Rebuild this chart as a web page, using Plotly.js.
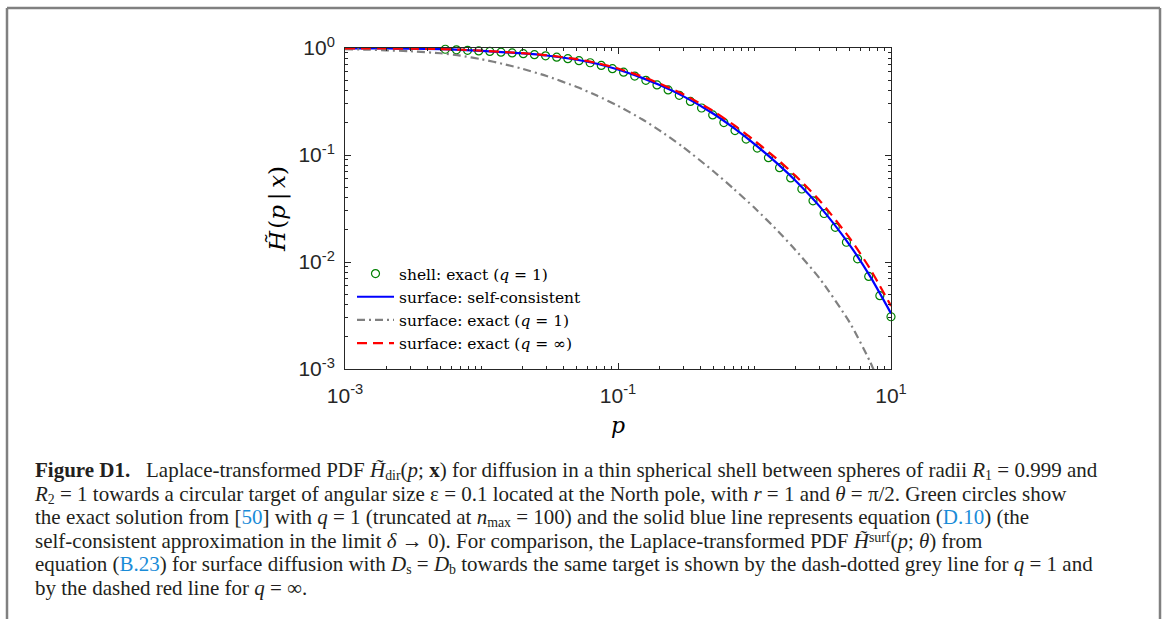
<!DOCTYPE html>
<html>
<head>
<meta charset="utf-8">
<script src="https://cdn.plot.ly/plotly-3.0.1.min.js"></script>
<style>
  html, body { margin: 0; padding: 0; background: #fff; }
  body { position: relative; width: 1165px; height: 619px; overflow: hidden; }
  #chart { position: absolute; left: 0; top: 0; width: 1165px; height: 619px; }
  #caption {
    position: absolute; left: 35px; top: 459px; z-index: 10;
    font-family: 'Liberation Serif', 'Times New Roman', serif;
    font-size: 21px; line-height: 23.6px; color: #231f20; white-space: nowrap;
  }
  #caption sub, #caption sup { font-size: 0.66em; line-height: 0; }
  #caption sub { vertical-align: -0.22em; }
  #caption sup { vertical-align: 0.42em; }
  #caption .ref { color: #1a8cd8; }
</style>
</head>
<body>
<div id="chart"></div>
<div id="caption"></div>
<script>
// ---------------- data ----------------
// shell: exact (q = 1) — green circles
const pShell = [0.005429, 0.006551, 0.007906, 0.009541, 0.01151, 0.01389, 0.01677, 0.02024,
  0.02442, 0.02947, 0.03556, 0.04292, 0.05179, 0.06251, 0.07543, 0.09103, 0.1099, 0.1326,
  0.1600, 0.1931, 0.2330, 0.2812, 0.3393, 0.4095, 0.4942, 0.5964, 0.7197, 0.8685, 1.048,
  1.265, 1.526, 1.842, 2.223, 2.683, 3.237, 3.907, 4.715, 5.690, 6.866, 8.286, 10];
const hShell = [0.973, 0.962, 0.951, 0.940, 0.929, 0.914, 0.900, 0.885, 0.867, 0.845, 0.820,
  0.794, 0.762, 0.728, 0.687, 0.641, 0.594, 0.546, 0.499, 0.452, 0.406, 0.361, 0.317, 0.275,
  0.237, 0.201, 0.169, 0.141, 0.116, 0.0944, 0.0762, 0.0610, 0.0481, 0.0373, 0.0284, 0.0211,
  0.0153, 0.0107, 0.00733, 0.00484, 0.00308];

// p grid for the three curves
const pCurve = [0.001, 0.0015, 0.002, 0.003, 0.005, 0.007, 0.01, 0.015, 0.02, 0.03, 0.05, 0.07,
  0.1, 0.15, 0.2, 0.3, 0.5, 0.7, 1, 1.5, 2, 3, 5, 7, 10];
// surface: self-consistent — solid blue
const hSelfConsistent = [0.993, 0.991, 0.989, 0.984, 0.977, 0.962, 0.940, 0.912, 0.891, 0.851,
  0.776, 0.713, 0.630, 0.526, 0.453, 0.355, 0.243, 0.180, 0.1265, 0.0813, 0.0575, 0.0331,
  0.0143, 0.00741, 0.00331];
// surface: exact (q = 1) — grey dash-dot
const hSurfQ1 = [0.975, 0.964, 0.951, 0.933, 0.893, 0.849, 0.785, 0.701, 0.638, 0.547, 0.432,
  0.359, 0.288, 0.216, 0.171, 0.1186, 0.0705, 0.0486, 0.0321, 0.0192, 0.0129, 0.00703, 0.00270,
  0.00118, 0.000405];
// surface: exact (q = inf) — red dashed
const hSurfQinf = [0.993, 0.991, 0.989, 0.984, 0.977, 0.964, 0.944, 0.916, 0.895, 0.857, 0.787,
  0.724, 0.643, 0.542, 0.468, 0.370, 0.257, 0.192, 0.1365, 0.0891, 0.0638, 0.0376, 0.0166,
  0.00871, 0.00389];

const legendNames = [
  'shell: exact (<i>q</i> = 1)',
  'surface: self-consistent',
  'surface: exact (<i>q</i> = 1)',
  'surface: exact (<i>q</i> = ∞)'
];

const xTickVals = [0.001, 0.1, 10];
const xTickText = ['10<sup>-3</sup>', '10<sup>-1</sup>', '10<sup>1</sup>'];
const yTickVals = [0.001, 0.01, 0.1, 1];
const yTickText = ['10<sup>-3</sup>', '10<sup>-2</sup>', '10<sup>-1</sup>', '10<sup>0</sup>'];

const captionLines = [
  '<b>Figure D1.</b>&ensp; Laplace-transformed PDF <i>H̃</i><sub>dir</sub>(<i>p</i>; <b>x</b>) for diffusion in a thin spherical shell between spheres of radii <i>R</i><sub>1</sub> = 0.999 and',
  '<i>R</i><sub>2</sub> = 1 towards a circular target of angular size ε = 0.1 located at the North pole, with <i>r</i> = 1 and <i>θ</i> = π/2. Green circles show',
  'the exact solution from [<span class="ref">50</span>] with <i>q</i> = 1 (truncated at <i>n</i><sub>max</sub> = 100) and the solid blue line represents equation (<span class="ref">D.10</span>) (the',
  'self-consistent approximation in the limit <i>δ</i> → 0). For comparison, the Laplace-transformed PDF <i>H̃</i><sup>surf</sup>(<i>p</i>; <i>θ</i>) from',
  'equation (<span class="ref">B.23</span>) for surface diffusion with <i>D</i><sub>s</sub> = <i>D</i><sub>b</sub> towards the same target is shown by the dash-dotted grey line for <i>q</i> = 1 and',
  'by the dashed red line for <i>q</i> = ∞.'
];
document.getElementById('caption').innerHTML = captionLines.join('<br>');

// ---------------- layout helpers (pixel -> paper) ----------------
const W = 1165, H = 619;
const PL = 345, PR = 891, PT = 48, PB = 369;
const px = x => (x - PL) / (PR - PL);
const py = y => (PB - y) / (PB - PT);

function minorVals(lo, hi) {
  const out = [];
  for (let e = lo; e < hi; e++) {
    for (let m = 1; m <= 9; m++) out.push(m * Math.pow(10, e));
  }
  return out;
}

const axisColor = '#262626';
const tickFont = { family: 'Liberation Sans, Arial, sans-serif', size: 21, color: axisColor };

const traces = [
  {
    x: pShell, y: hShell, name: legendNames[0], type: 'scatter', mode: 'markers',
    marker: { symbol: 'circle-open', size: 8, color: '#008000', line: { width: 1.2, color: '#008000' } },
    cliponaxis: false
  },
  {
    x: pCurve, y: hSelfConsistent, name: legendNames[1], type: 'scatter', mode: 'lines',
    line: { color: '#0000ff', width: 2.2, shape: 'spline', smoothing: 0.6 },
    cliponaxis: false
  },
  {
    x: pCurve, y: hSurfQ1, name: legendNames[2], type: 'scatter', mode: 'lines',
    line: { color: '#808080', width: 2.2, dash: '8px,4px,2px,4px', shape: 'spline', smoothing: 0.6 }
  },
  {
    x: pCurve, y: hSurfQinf, name: legendNames[3], type: 'scatter', mode: 'lines',
    line: { color: '#ff0000', width: 2.2, dash: '10px,6px', shape: 'spline', smoothing: 0.6 },
    cliponaxis: false
  }
];

const frameColor = '#808080';
const shapes = [
  { type: 'line', xref: 'paper', yref: 'paper', x0: px(7), x1: px(7), y0: py(8), y1: py(640), line: { color: frameColor, width: 2.5 } },
  { type: 'line', xref: 'paper', yref: 'paper', x0: px(7), x1: px(1160), y0: py(8), y1: py(8), line: { color: frameColor, width: 2.5 } },
  { type: 'line', xref: 'paper', yref: 'paper', x0: px(1160), x1: px(1160), y0: py(8), y1: py(640), line: { color: frameColor, width: 2.5 } }
];

const layout = {
  width: W, height: H,
  margin: { l: PL, r: W - PR, t: PT, b: H - PB, pad: 0 },
  paper_bgcolor: '#ffffff', plot_bgcolor: '#ffffff',
  showlegend: true,
  xaxis: {
    type: 'log', range: [-3, 1], autorange: false,
    tickvals: xTickVals, ticktext: xTickText,
    ticks: 'inside', ticklen: 6, tickwidth: 1, tickcolor: axisColor,
    showline: true, linecolor: axisColor, linewidth: 1, mirror: 'allticks',
    showgrid: false, zeroline: false, tickfont: tickFont, ticklabelstandoff: 8,
    minor: { tickvals: minorVals(-3, 1), ticks: 'inside', ticklen: 3, tickwidth: 1, tickcolor: axisColor, showgrid: false },
    title: { text: '<i>p</i>', font: { family: 'DejaVu Serif, serif', size: 22, color: '#000' }, standoff: 11 }
  },
  yaxis: {
    type: 'log', range: [-3, 0], autorange: false,
    tickvals: yTickVals, ticktext: yTickText,
    ticks: 'inside', ticklen: 6, tickwidth: 1, tickcolor: axisColor,
    showline: true, linecolor: axisColor, linewidth: 1, mirror: 'allticks',
    showgrid: false, zeroline: false, tickfont: tickFont, ticklabelstandoff: 5,
    minor: { tickvals: minorVals(-3, 0), ticks: 'inside', ticklen: 3, tickwidth: 1, tickcolor: axisColor, showgrid: false },
    title: { text: '<i>H̃</i>\u200a(<i>p</i>\u2009|\u2009<i>x</i>)', font: { family: 'DejaVu Serif, serif', size: 23, color: '#000' }, standoff: 6 }
  },
  legend: {
    x: px(352), y: py(257), xanchor: 'left', yanchor: 'top',
    bgcolor: 'rgba(0,0,0,0)', borderwidth: 0,
    font: { family: 'DejaVu Serif, serif', size: 15.5, color: '#000' },
    itemwidth: 37, tracegroupgap: 0
  },
  shapes: shapes
};

Plotly.newPlot('chart', traces, layout, { displayModeBar: false, staticPlot: true });
</script>
</body>
</html>
